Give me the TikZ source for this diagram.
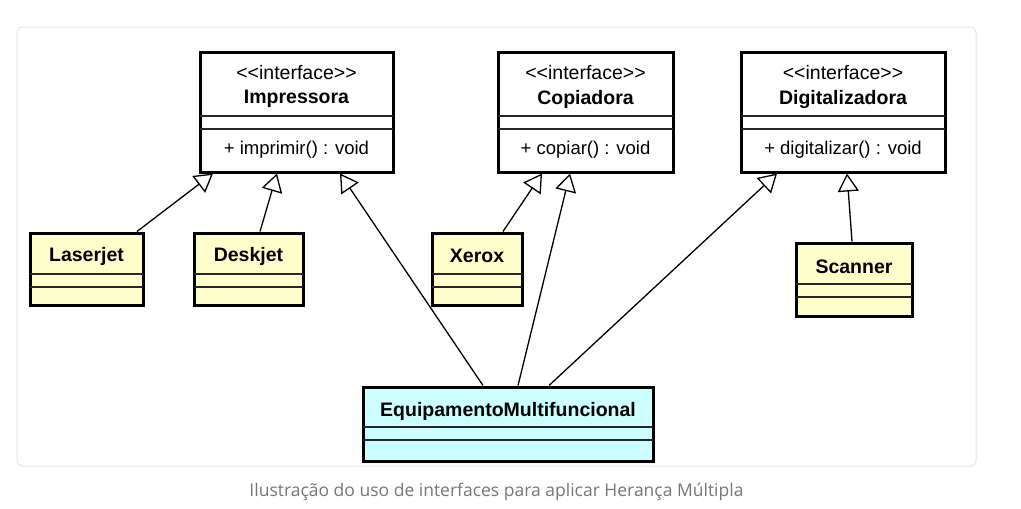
\documentclass[tikz,border=0pt]{standalone}
\usepackage{fontspec}
\setmainfont[Ligatures=NoCommon]{Liberation Sans}
\newfontfamily\capfont{Open Sans}
\usetikzlibrary{arrows.meta}
\definecolor{clsyellow}{RGB}{255,255,204}
\definecolor{clscyan}{RGB}{204,255,255}
\definecolor{framegray}{RGB}{229,229,229}
\definecolor{capgray}{RGB}{118,118,118}
\newcommand{\stereotxt}{{<}{<}interface{>}{>}}
\tikzset{
  umlbox/.style={draw=black, line width=3pt, rectangle, inner sep=0pt, outer sep=0pt},
  ifbox/.style={umlbox, fill=white},
  clbox/.style={umlbox, fill=clsyellow},
  mfbox/.style={umlbox, fill=clscyan},
  divline/.style={draw=black!85, line width=1.4pt},
  stereo/.style={font=\fontsize{19.5}{22}\selectfont, inner sep=0pt},
  clname/.style={font=\fontsize{19.5}{22}\selectfont\bfseries, inner sep=0pt},
  meth/.style={font=\fontsize{18.5}{21}\selectfont, inner sep=0pt},
  gen/.style={draw=black, line width=1.3pt, -{Triangle[open, length=18pt, width=21pt, line width=1.3pt]}},
}
\begin{document}
\begin{tikzpicture}[x=1pt, y=-1pt]
\useasboundingbox (0,0) rectangle (1021,509);
\draw[framegray, line width=1pt, rounded corners=5pt] (17,27) rectangle (976,466);

% interfaces
\node[ifbox, minimum width=193pt, minimum height=120pt] (imp) at (296.5,112) {};
\node[stereo] (impst) at (296.5,73) {\stereotxt};
\node[clname] (impnm) at (296.5,99) {Impressora};
\draw[divline] (imp.west |- 0,116) -- (imp.east |- 0,116);
\draw[divline] (imp.west |- 0,129) -- (imp.east |- 0,129);
\node[meth] (impme) at (296.5,150) {+ imprimir() : void};

\node[ifbox, minimum width=175pt, minimum height=120pt] (cop) at (585.5,112) {};
\node[stereo] (copst) at (585.5,73) {\stereotxt};
\node[clname] (copnm) at (585.5,99) {Copiadora};
\draw[divline] (cop.west |- 0,116) -- (cop.east |- 0,116);
\draw[divline] (cop.west |- 0,129) -- (cop.east |- 0,129);
\node[meth] (copme) at (585.5,150) {+ copiar() : void};

\node[ifbox, minimum width=204pt, minimum height=120pt] (dig) at (843,112) {};
\node[stereo] (digst) at (843,73) {\stereotxt};
\node[clname] (dignm) at (843,99) {Digitalizadora};
\draw[divline] (dig.west |- 0,116) -- (dig.east |- 0,116);
\draw[divline] (dig.west |- 0,129) -- (dig.east |- 0,129);
\node[meth] (digme) at (843,150) {+ digitalizar() : void};

% classes
\node[clbox, minimum width=113pt, minimum height=72pt] (laser) at (86.5,269) {};
\node[clname] (lasernm) at (86.5,256) {Laserjet};
\draw[divline] (laser.west |- 0,274) -- (laser.east |- 0,274);
\draw[divline] (laser.west |- 0,287) -- (laser.east |- 0,287);

\node[clbox, minimum width=109pt, minimum height=72pt] (desk) at (248.5,269) {};
\node[clname] (desknm) at (248.5,256) {Deskjet};
\draw[divline] (desk.west |- 0,274) -- (desk.east |- 0,274);
\draw[divline] (desk.west |- 0,287) -- (desk.east |- 0,287);

\node[clbox, minimum width=90pt, minimum height=72pt] (xerox) at (477,269) {};
\node[clname] (xeroxnm) at (477,256) {Xerox};
\draw[divline] (xerox.west |- 0,274) -- (xerox.east |- 0,274);
\draw[divline] (xerox.west |- 0,287) -- (xerox.east |- 0,287);

\node[clbox, minimum width=116pt, minimum height=73pt] (scan) at (854,279.5) {};
\node[clname] (scannm) at (854,267) {Scanner};
\draw[divline] (scan.west |- 0,284) -- (scan.east |- 0,284);
\draw[divline] (scan.west |- 0,297) -- (scan.east |- 0,297);

\node[mfbox, minimum width=290pt, minimum height=74pt] (multi) at (508,424) {};
\node[clname] (multinm) at (508,411) {EquipamentoMultifuncional};
\draw[divline] (multi.west |- 0,427) -- (multi.east |- 0,427);
\draw[divline] (multi.west |- 0,440) -- (multi.east |- 0,440);

% generalizations
\draw[gen] ([xshift=50.5pt, yshift=1.5pt]laser.north) -- ([xshift=-83.5pt, yshift=-1.5pt]imp.south);
\draw[gen] ([xshift=11.5pt, yshift=1.5pt]desk.north) -- ([xshift=-19.5pt, yshift=-1.5pt]imp.south);
\draw[gen] ([xshift=-25pt, yshift=1.5pt]multi.north) -- ([xshift=43.5pt, yshift=-1.5pt]imp.south);
\draw[gen] ([xshift=26pt, yshift=1.5pt]xerox.north) -- ([xshift=-43.5pt, yshift=-1.5pt]cop.south);
\draw[gen] ([xshift=10pt, yshift=1.5pt]multi.north) -- ([xshift=-15.5pt, yshift=-1.5pt]cop.south);
\draw[gen] ([xshift=41pt, yshift=1.5pt]multi.north) -- ([xshift=-66pt, yshift=-1.5pt]dig.south);
\draw[gen] ([xshift=-2pt, yshift=1.5pt]scan.north) -- ([xshift=4pt, yshift=-1.5pt]dig.south);

% caption
\node[font=\capfont\fontsize{17.5}{20}\selectfont, text=capgray, inner sep=0pt] (cap) at (496.5,492) {Ilustração do uso de interfaces para aplicar Herança Múltipla};
\end{tikzpicture}
\end{document}
